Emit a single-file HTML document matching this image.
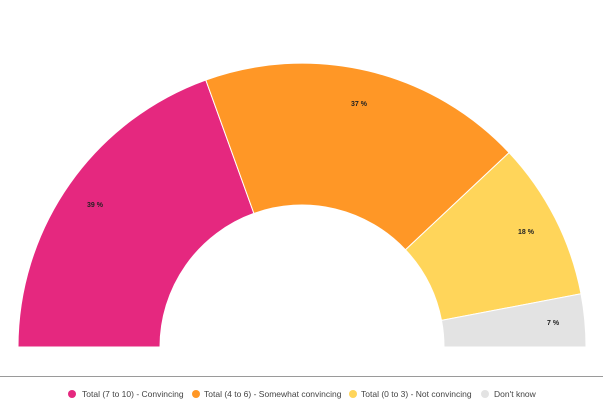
<!DOCTYPE html>
<html><head><meta charset="utf-8"><style>
html,body{margin:0;padding:0;background:#fff;}
body{width:603px;height:410px;overflow:hidden;font-family:"Liberation Sans",sans-serif;}
</style></head><body>
<svg width="603" height="410" viewBox="0 0 603 410" xmlns="http://www.w3.org/2000/svg">
<g stroke="#fff" stroke-width="1">
<path d="M18,347 A284,284 0 0 1 205.8,80 L253.9,213.4 A142,142 0 0 0 160,347 Z" fill="#E5287F"/>
<path d="M205.8,80 A284,284 0 0 1 509.1,152.6 L405.5,249.8 A142,142 0 0 0 253.9,213.4 Z" fill="#FF9726"/>
<path d="M509.1,152.6 A284,284 0 0 1 581,293.8 L441.5,320.4 A142,142 0 0 0 405.5,249.8 Z" fill="#FFD55A"/>
<path d="M581,293.8 A284,284 0 0 1 586,347 L444,347 A142,142 0 0 0 441.5,320.4 Z" fill="#E3E3E3"/>
</g>
<g font-size="7" font-weight="bold" fill="#222">
<text x="87" y="207">39 %</text>
<text x="351" y="106">37 %</text>
<text x="518" y="234">18 %</text>
<text x="547" y="325">7 %</text>
</g>
<line x1="0" y1="376.5" x2="603" y2="376.5" stroke="#9a9a9a" stroke-width="1"/>
<g font-size="8.5" fill="#444">
<circle cx="72" cy="394" r="4" fill="#E5287F"/><text x="82" y="397">Total (7 to 10) - Convincing</text>
<circle cx="196" cy="394" r="4" fill="#FF9726"/><text x="204" y="397">Total (4 to 6) - Somewhat convincing</text>
<circle cx="353" cy="394" r="4" fill="#FFD55A"/><text x="361" y="397">Total (0 to 3) - Not convincing</text>
<circle cx="485" cy="394" r="4" fill="#E3E3E3"/><text x="494" y="397">Don't know</text>
</g>
</svg>
</body></html>
